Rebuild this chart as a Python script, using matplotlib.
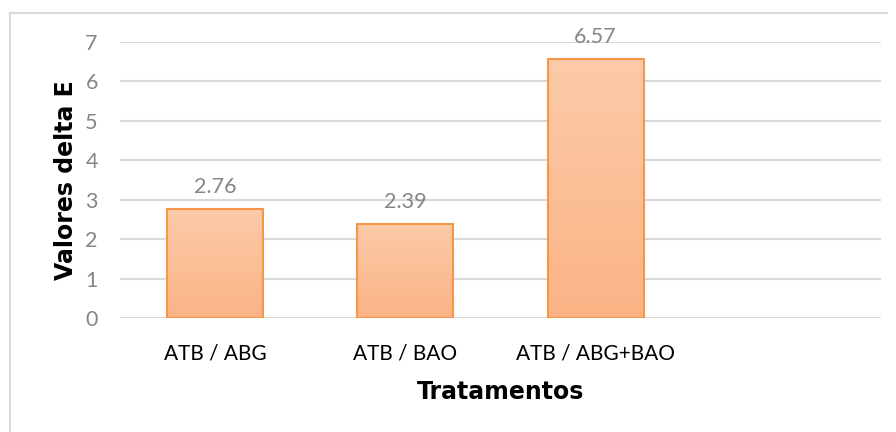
import numpy as np
import matplotlib.pyplot as plt
from matplotlib.colors import LinearSegmentedColormap
from matplotlib.lines import Line2D

# data ---
categories = ['ATB / ABG', 'ATB / BAO', 'ATB / ABG+BAO']
values = [2.76, 2.39, 6.57]
n_slots = 4   # excel left an empty 4th slot
yticks = [0, 1, 2, 3, 4, 5, 6, 7]
# ---

plt.rcParams['font.family'] = ['Lato', 'DejaVu Sans']

fig = plt.figure(figsize=(8.96, 4.32), dpi=100)
ax = fig.add_axes([120/896, (432-318)/432, (881-120)/896, (318-41.7)/432])

grad = LinearSegmentedColormap.from_list('peach', ['#fbb385', '#fccba9'])
x = np.arange(len(categories))
bars = ax.bar(x, values, width=0.505, facecolor='none', edgecolor='#f79646',
              linewidth=1.5, zorder=3)
for b in bars:
    x0, y0 = b.get_x(), b.get_y()
    w, h = b.get_width(), b.get_height()
    im = ax.imshow(np.linspace(0, 1, 256).reshape(-1, 1), cmap=grad, origin='lower',
                   extent=[x0, x0+w, y0, y0+h], aspect='auto', zorder=2)
    im.set_clip_path(b)
    ax.text(x0+w/2, h+0.3, f'{h:.2f}', ha='center', va='bottom', fontsize=15.5, color='#858585')

ax.set_xlim(-0.5, n_slots-0.5)
ax.set_ylim(0, 7)
ax.set_yticks(yticks)
ax.set_xticks(x)
ax.set_xticklabels(categories, fontsize=15, color='black')
ax.tick_params(axis='y', labelsize=15.5, labelcolor='#858585', length=0, pad=16)
ax.tick_params(axis='x', length=0, pad=18)
ax.grid(axis='y', color='#d9d9d9', linewidth=1.5, zorder=0)
ax.set_axisbelow(True)
for s in ax.spines.values():
    s.set_visible(False)

ax.set_xlabel('Tratamentos', fontsize=17, fontweight='heavy', family='DejaVu Sans', labelpad=12)
ax.set_ylabel('Valores delta E', fontsize=17, fontweight='heavy', family='DejaVu Sans', labelpad=5)

# chart area border (left + top visible)
fig.add_artist(Line2D([10/896, 10/896], [0, 1-13/432], color='#d9d9d9', linewidth=1.5))
fig.add_artist(Line2D([10/896, 887/896], [1-13/432, 1-13/432], color='#d9d9d9', linewidth=1.5))

plt.savefig('out.png', dpi=100)
